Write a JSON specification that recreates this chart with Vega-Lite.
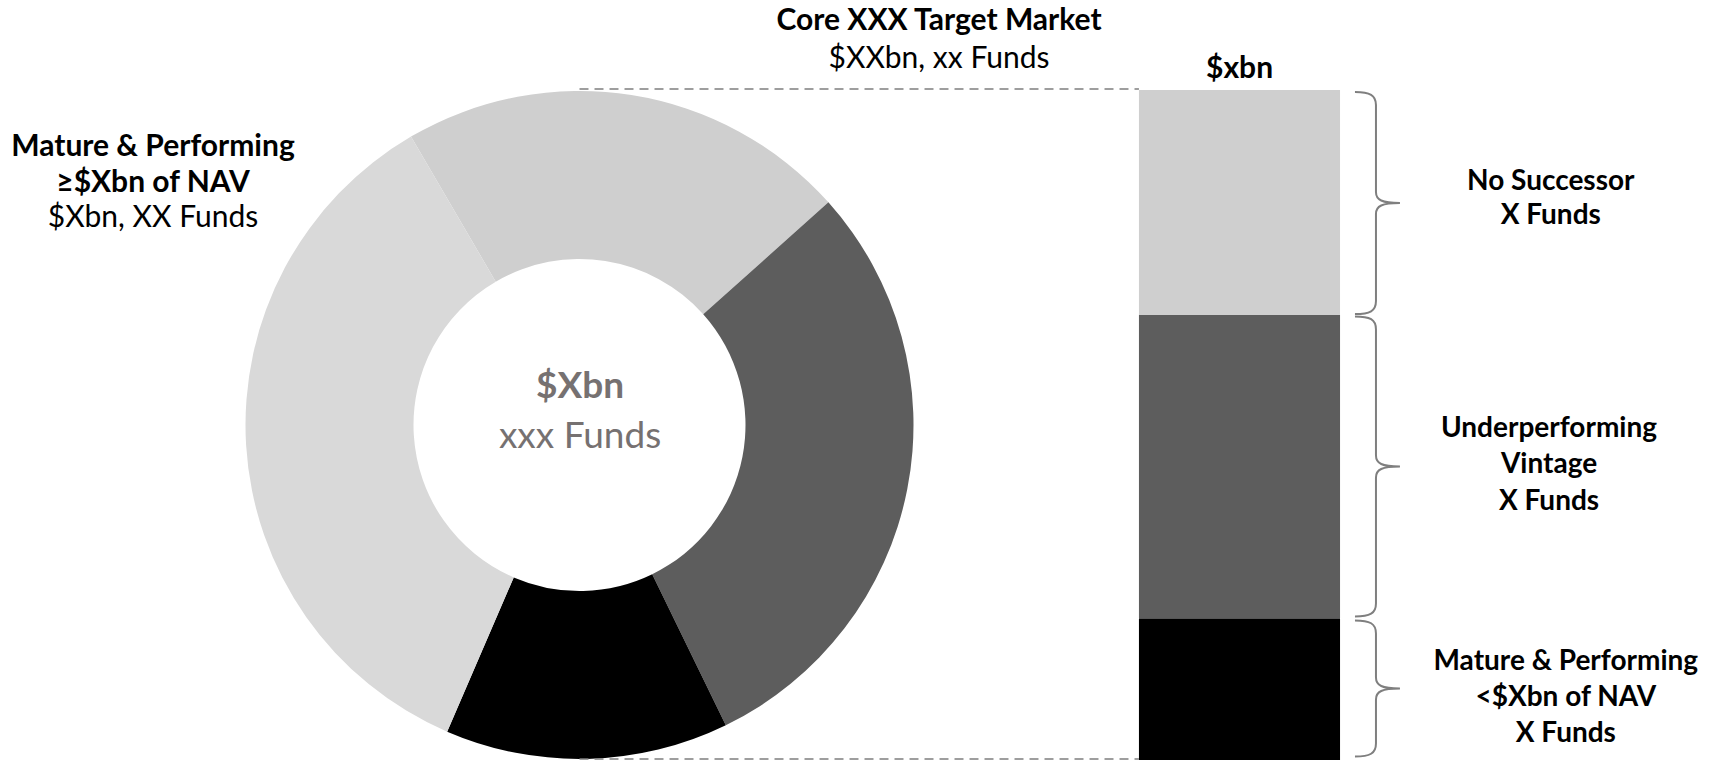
{
  "$schema": "https://vega.github.io/schema/vega-lite/v6.json",
  "width": 1159,
  "height": 670,
  "autosize": {"type": "none"},
  "padding": {"left": 0, "top": 90, "right": 552, "bottom": 1},
  "background": "white",
  "config": {"view": {"stroke": null}, "text": {"font": "Lato"}},
  "datasets": {
    "segments": [
      {"category": "No Successor", "value": 21.8, "o": 1, "core": true},
      {"category": "Underperforming Vintage", "value": 29.4, "o": 2, "core": true},
      {"category": "Mature & Performing <$Xbn of NAV", "value": 13.7, "o": 3, "core": true},
      {"category": "Mature & Performing ≥$Xbn of NAV", "value": 35.1, "o": 4, "core": false}
    ]
  },
  "layer": [
    {
      "data": {"name": "segments"},
      "mark": {"type": "arc", "outerRadius": 334, "innerRadius": 166},
      "encoding": {
        "theta": {"field": "value", "type": "quantitative", "stack": true, "scale": {"range": [-0.5288, 5.7544]}},
        "order": {"field": "o", "type": "quantitative"},
        "color": {"field": "category", "type": "nominal", "legend": null,
          "scale": {"domain": ["No Successor", "Underperforming Vintage", "Mature & Performing <$Xbn of NAV", "Mature & Performing ≥$Xbn of NAV"],
                    "range": ["#cfcfcf", "#5d5d5d", "#000000", "#d9d9d9"]}}
      }
    },
    {
      "data": {"name": "segments"},
      "transform": [
        {"filter": "datum.core"},
        {"stack": "value", "groupby": [], "sort": [{"field": "o", "order": "descending"}], "offset": "normalize", "as": ["y0", "y1"]}
      ],
      "mark": {"type": "bar"},
      "encoding": {
        "x": {"datum": 98.27, "type": "quantitative", "scale": {"domain": [0, 100], "nice": false, "zero": false}, "axis": null},
        "x2": {"datum": 115.62},
        "y": {"field": "y1", "type": "quantitative", "scale": {"domain": [0, 1], "nice": false, "zero": false}, "axis": null},
        "y2": {"field": "y0"},
        "color": {"field": "category", "type": "nominal", "legend": null,
          "scale": {"domain": ["No Successor", "Underperforming Vintage", "Mature & Performing <$Xbn of NAV", "Mature & Performing ≥$Xbn of NAV"],
                    "range": ["#cfcfcf", "#5d5d5d", "#000000", "#d9d9d9"]}}
      }
    },
    {
      "data": {"values": [{}]},
      "mark": {"type": "rule", "stroke": "#7f7f7f", "strokeWidth": 1.5, "strokeDash": [9, 6]},
      "encoding": {
        "x": {"datum": 50, "type": "quantitative", "scale": {"domain": [0, 100], "nice": false, "zero": false}, "axis": null},
        "x2": {"datum": 98.27},
        "y": {"datum": 1.0015, "type": "quantitative", "scale": {"domain": [0, 1], "nice": false, "zero": false}, "axis": null}
      }
    },
    {
      "data": {"values": [{}]},
      "mark": {"type": "rule", "stroke": "#7f7f7f", "strokeWidth": 1.5, "strokeDash": [9, 6]},
      "encoding": {
        "x": {"datum": 50, "type": "quantitative", "scale": {"domain": [0, 100], "nice": false, "zero": false}, "axis": null},
        "x2": {"datum": 98.27},
        "y": {"datum": 0.0015, "type": "quantitative", "scale": {"domain": [0, 1], "nice": false, "zero": false}, "axis": null}
      }
    },
    {
      "data": {"values": [{}]},
      "mark": {"type": "point", "shape": "M-21,-111C-6,-111 0,-108 0,-98L0,-11C0,-3 6,0 24,0C6,0 0,3 0,11L0,98C0,108 -6,111 -21,111", "size": 4, "filled": false, "stroke": "#7f7f7f", "strokeWidth": 2, "opacity": 1},
      "encoding": {
        "x": {"datum": 118.72, "type": "quantitative", "scale": {"domain": [0, 100], "nice": false, "zero": false}, "axis": null},
        "y": {"datum": 0.8313, "type": "quantitative", "scale": {"domain": [0, 1], "nice": false, "zero": false}, "axis": null}
      }
    },
    {
      "data": {"values": [{}]},
      "mark": {"type": "point", "shape": "M-21,-150C-6,-150 0,-147 0,-137L0,-11C0,-3 6,0 24,0C6,0 0,3 0,11L0,137C0,147 -6,150 -21,150", "size": 4, "filled": false, "stroke": "#7f7f7f", "strokeWidth": 2, "opacity": 1},
      "encoding": {
        "x": {"datum": 118.72, "type": "quantitative", "scale": {"domain": [0, 100], "nice": false, "zero": false}, "axis": null},
        "y": {"datum": 0.4381, "type": "quantitative", "scale": {"domain": [0, 1], "nice": false, "zero": false}, "axis": null}
      }
    },
    {
      "data": {"values": [{}]},
      "mark": {"type": "point", "shape": "M-21,-68C-6,-68 0,-65 0,-55L0,-11C0,-3 6,0 24,0C6,0 0,3 0,11L0,55C0,65 -6,68 -21,68", "size": 4, "filled": false, "stroke": "#7f7f7f", "strokeWidth": 2, "opacity": 1},
      "encoding": {
        "x": {"datum": 118.72, "type": "quantitative", "scale": {"domain": [0, 100], "nice": false, "zero": false}, "axis": null},
        "y": {"datum": 0.1067, "type": "quantitative", "scale": {"domain": [0, 1], "nice": false, "zero": false}, "axis": null}
      }
    },
    {
      "data": {"values": [{}]},
      "mark": {"type": "text", "text": ["Mature & Performing", "≥$Xbn of NAV"], "fontWeight": "bold", "fontSize": 30, "lineHeight": 36, "align": "center", "baseline": "alphabetic", "color": "#000000"},
      "encoding": {
        "x": {"datum": 13.2, "type": "quantitative", "scale": {"domain": [0, 100], "nice": false, "zero": false}, "axis": null},
        "y": {"datum": 0.9015, "type": "quantitative", "scale": {"domain": [0, 1], "nice": false, "zero": false}, "axis": null}
      }
    },
    {
      "data": {"values": [{}]},
      "mark": {"type": "text", "text": "$Xbn, XX Funds", "fontWeight": "normal", "fontSize": 30, "align": "center", "baseline": "alphabetic", "color": "#000000"},
      "encoding": {
        "x": {"datum": 13.2, "type": "quantitative", "scale": {"domain": [0, 100], "nice": false, "zero": false}, "axis": null},
        "y": {"datum": 0.7955, "type": "quantitative", "scale": {"domain": [0, 1], "nice": false, "zero": false}, "axis": null}
      }
    },
    {
      "data": {"values": [{}]},
      "mark": {"type": "text", "text": "Core XXX Target Market", "fontWeight": "bold", "fontSize": 30, "align": "center", "baseline": "alphabetic", "color": "#000000"},
      "encoding": {
        "x": {"datum": 81.02, "type": "quantitative", "scale": {"domain": [0, 100], "nice": false, "zero": false}, "axis": null},
        "y": {"datum": 1.0896, "type": "quantitative", "scale": {"domain": [0, 1], "nice": false, "zero": false}, "axis": null}
      }
    },
    {
      "data": {"values": [{}]},
      "mark": {"type": "text", "text": "$XXbn, xx Funds", "fontWeight": "normal", "fontSize": 30, "align": "center", "baseline": "alphabetic", "color": "#000000"},
      "encoding": {
        "x": {"datum": 81.02, "type": "quantitative", "scale": {"domain": [0, 100], "nice": false, "zero": false}, "axis": null},
        "y": {"datum": 1.0328, "type": "quantitative", "scale": {"domain": [0, 1], "nice": false, "zero": false}, "axis": null}
      }
    },
    {
      "data": {"values": [{}]},
      "mark": {"type": "text", "text": "$xbn", "fontWeight": "bold", "fontSize": 30, "align": "center", "baseline": "alphabetic", "color": "#000000"},
      "encoding": {
        "x": {"datum": 106.95, "type": "quantitative", "scale": {"domain": [0, 100], "nice": false, "zero": false}, "axis": null},
        "y": {"datum": 1.0179, "type": "quantitative", "scale": {"domain": [0, 1], "nice": false, "zero": false}, "axis": null}
      }
    },
    {
      "data": {"values": [{}]},
      "mark": {"type": "text", "text": "$Xbn", "fontWeight": "bold", "fontSize": 37, "align": "center", "baseline": "alphabetic", "color": "#767171"},
      "encoding": {
        "x": {"datum": 50.05, "type": "quantitative", "scale": {"domain": [0, 100], "nice": false, "zero": false}, "axis": null},
        "y": {"datum": 0.5403, "type": "quantitative", "scale": {"domain": [0, 1], "nice": false, "zero": false}, "axis": null}
      }
    },
    {
      "data": {"values": [{}]},
      "mark": {"type": "text", "text": "xxx Funds", "fontWeight": "normal", "fontSize": 37, "align": "center", "baseline": "alphabetic", "color": "#767171"},
      "encoding": {
        "x": {"datum": 50.05, "type": "quantitative", "scale": {"domain": [0, 100], "nice": false, "zero": false}, "axis": null},
        "y": {"datum": 0.4657, "type": "quantitative", "scale": {"domain": [0, 1], "nice": false, "zero": false}, "axis": null}
      }
    },
    {
      "data": {"values": [{}]},
      "mark": {"type": "text", "text": ["No Successor", "X Funds"], "fontWeight": "bold", "fontSize": 28, "lineHeight": 34, "align": "center", "baseline": "alphabetic", "color": "#000000"},
      "encoding": {
        "x": {"datum": 133.8, "type": "quantitative", "scale": {"domain": [0, 100], "nice": false, "zero": false}, "axis": null},
        "y": {"datum": 0.8507, "type": "quantitative", "scale": {"domain": [0, 1], "nice": false, "zero": false}, "axis": null}
      }
    },
    {
      "data": {"values": [{}]},
      "mark": {"type": "text", "text": ["Underperforming", "Vintage", "X Funds"], "fontWeight": "bold", "fontSize": 28, "lineHeight": 36.5, "align": "center", "baseline": "alphabetic", "color": "#000000"},
      "encoding": {
        "x": {"datum": 133.65, "type": "quantitative", "scale": {"domain": [0, 100], "nice": false, "zero": false}, "axis": null},
        "y": {"datum": 0.4821, "type": "quantitative", "scale": {"domain": [0, 1], "nice": false, "zero": false}, "axis": null}
      }
    },
    {
      "data": {"values": [{}]},
      "mark": {"type": "text", "text": ["Mature & Performing", "<$Xbn of NAV", "X Funds"], "fontWeight": "bold", "fontSize": 28, "lineHeight": 36, "align": "center", "baseline": "alphabetic", "color": "#000000"},
      "encoding": {
        "x": {"datum": 135.1, "type": "quantitative", "scale": {"domain": [0, 100], "nice": false, "zero": false}, "axis": null},
        "y": {"datum": 0.1343, "type": "quantitative", "scale": {"domain": [0, 1], "nice": false, "zero": false}, "axis": null}
      }
    }
  ]
}
